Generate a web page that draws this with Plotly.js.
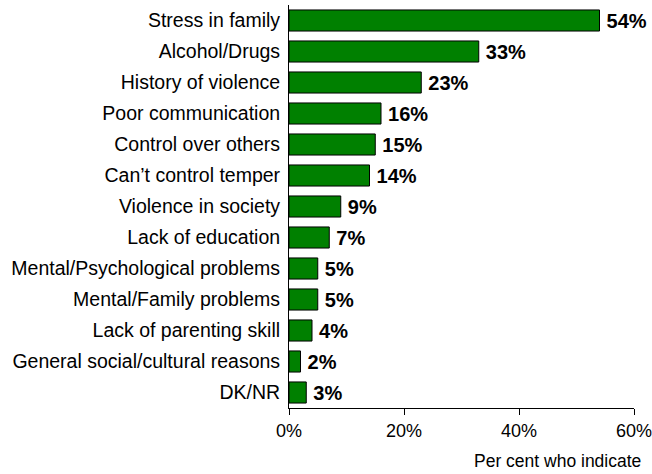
<!DOCTYPE html>
<html><head><meta charset="utf-8">
<script src="https://cdn.plot.ly/plotly-3.0.1.min.js"></script>
<style>html,body{margin:0;padding:0;background:#fff}</style>
</head><body>
<div id="chart" style="width:652px;height:474px"></div>
<script>
var categories = ["Stress in family","Alcohol/Drugs","History of violence","Poor communication","Control over others","Can\u2019t control temper","Violence in society","Lack of education","Mental/Psychological problems","Mental/Family problems","Lack of parenting skill","General social/cultural reasons","DK/NR"];
var values = [54,33,23,16,15,14,9,7,5,5,4,2,3];
var tickVals = [0,20,40,60];
var tickText = ["0%","20%","40%","60%"];
var axisTitle = "Per cent who indicate";

var sans = "Liberation Sans, Arial, sans-serif";
var trace = {
  type: "bar", orientation: "h",
  y: categories, x: values,
  marker: {color: "#008000", line: {color: "#000000", width: 1}},
  width: 0.68,
  text: values.map(function(v){return "<b>\u2009" + v + "%</b>";}),
  textposition: "outside",
  textfont: {family: sans, size: 20, color: "#000"},
  constraintext: "none",
  cliponaxis: false,
  hoverinfo: "none"
};
var layout = {
  width: 652, height: 474,
  margin: {l: 289, r: 18, t: 5, b: 66},
  paper_bgcolor: "#fff", plot_bgcolor: "#fff",
  showlegend: false,
  font: {family: sans, color: "#000"},
  xaxis: {
    range: [0, 60], tickvals: tickVals, ticktext: tickText,
    ticks: "outside", ticklen: 6, tickcolor: "#000", tickwidth: 1,
    showline: true, linecolor: "#000", linewidth: 1,
    showgrid: false, zeroline: false, ticklabeloverflow: "allow",
    tickfont: {size: 18, color: "#000"}
  },
  yaxis: {
    autorange: "reversed", categoryorder: "array", categoryarray: categories,
    showline: true, linecolor: "#000", linewidth: 1,
    ticks: "", showgrid: false, zeroline: false,
    tickfont: {family: sans, size: 19.5, color: "#000"}, ticklabelstandoff: 4
  },
  annotations: [{
    text: axisTitle, xref: "paper", yref: "paper", x: 1, y: 0,
    xanchor: "right", yanchor: "middle", xshift: 9, yshift: -53, showarrow: false,
    font: {family: sans, size: 17.5, color: "#000"}
  }]
};
Plotly.newPlot("chart", [trace], layout, {displayModeBar: false, staticPlot: true});
</script>
</body></html>
